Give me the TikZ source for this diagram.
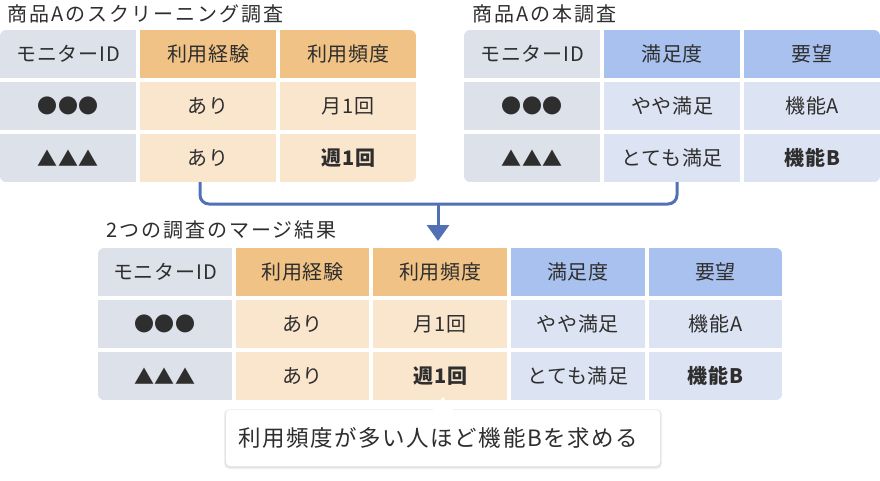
\documentclass[tikz,border=0pt]{standalone}
\usepackage{fontspec}
\setmainfont{Noto Sans CJK JP}
\newfontfamily\titlefont[LetterSpace=10]{Noto Sans CJK JP}
\newfontfamily\cellfontfam[LetterSpace=4]{Noto Sans CJK JP}
\newfontfamily\notefont[LetterSpace=7]{Noto Sans CJK JP}
\usetikzlibrary{arrows.meta}
\definecolor{txt}{HTML}{2E2E2E}
\definecolor{idcell}{HTML}{DDE1EA}
\definecolor{orhead}{HTML}{F0C285}
\definecolor{orcell}{HTML}{FAE5CD}
\definecolor{blhead}{HTML}{A9C1EE}
\definecolor{blcell}{HTML}{DCE3F2}
\definecolor{connc}{HTML}{5170B5}
\begin{document}
\begin{tikzpicture}[x=1pt,y=-1pt,
  cellbox/.style={font=\cellfontfam\fontsize{20}{24}\selectfont, inner sep=0pt, anchor=north west, text=txt, minimum height=48pt},
  topcell/.style={cellbox, minimum width=136pt},
  botcell/.style={cellbox, minimum width=133.6pt},
  titlebox/.style={font=\titlefont\fontsize{20}{24}\selectfont, text=txt, inner sep=0pt, anchor=base west},
  conn/.style={draw=connc, line width=3pt},
  callout/.style={font=\notefont\fontsize{22.5}{26}\selectfont, text=txt, inner sep=0pt, anchor=west}
]
\useasboundingbox (0,0) rectangle (880,480);

% ---------- titles
\node[titlebox] (title1) at (7,21) {商品Aのスクリーニング調査};
\node[titlebox] (title2) at (472,21) {商品Aの本調査};
\node[titlebox] (title3) at (106,237) {2つの調査のマージ結果};

% ---------- top-left table
\begin{scope}
\clip[rounded corners=6pt] (0,30) rectangle (416,182);
\node[topcell, fill=idcell] (a11) at (0,30) {モニターID};
\node[topcell, fill=orhead] (a12) at (140,30) {利用経験};
\node[topcell, fill=orhead] (a13) at (280,30) {利用頻度};
\node[topcell, fill=idcell] (a21) at (0,82) {●●●};
\node[topcell, fill=orcell] (a22) at (140,82) {あり};
\node[topcell, fill=orcell] (a23) at (280,82) {月1回};
\node[topcell, fill=idcell] (a31) at (0,134) {▲▲▲};
\node[topcell, fill=orcell] (a32) at (140,134) {あり};
\node[topcell, fill=orcell] (a33) at (280,134) {\bfseries 週1回};
\end{scope}

% ---------- top-right table
\begin{scope}
\clip[rounded corners=6pt] (464,30) rectangle (880,182);
\node[topcell, fill=idcell] (b11) at (464,30) {モニターID};
\node[topcell, fill=blhead] (b12) at (604,30) {満足度};
\node[topcell, fill=blhead] (b13) at (744,30) {要望};
\node[topcell, fill=idcell] (b21) at (464,82) {●●●};
\node[topcell, fill=blcell] (b22) at (604,82) {やや満足};
\node[topcell, fill=blcell] (b23) at (744,82) {機能A};
\node[topcell, fill=idcell] (b31) at (464,134) {▲▲▲};
\node[topcell, fill=blcell] (b32) at (604,134) {とても満足};
\node[topcell, fill=blcell] (b33) at (744,134) {\bfseries 機能B};
\end{scope}

% ---------- bottom (merged) table
\begin{scope}
\clip[rounded corners=6pt] (98,248) rectangle (782,400);
\node[botcell, fill=idcell] (c11) at (98,248) {モニターID};
\node[botcell, fill=orhead] (c12) at (235.6,248) {利用経験};
\node[botcell, fill=orhead] (c13) at (373.2,248) {利用頻度};
\node[botcell, fill=blhead] (c14) at (510.8,248) {満足度};
\node[botcell, fill=blhead] (c15) at (648.4,248) {要望};
\node[botcell, fill=idcell] (c21) at (98,300) {●●●};
\node[botcell, fill=orcell] (c22) at (235.6,300) {あり};
\node[botcell, fill=orcell] (c23) at (373.2,300) {月1回};
\node[botcell, fill=blcell] (c24) at (510.8,300) {やや満足};
\node[botcell, fill=blcell] (c25) at (648.4,300) {機能A};
\node[botcell, fill=idcell] (c31) at (98,352) {▲▲▲};
\node[botcell, fill=orcell] (c32) at (235.6,352) {あり};
\node[botcell, fill=orcell] (c33) at (373.2,352) {\bfseries 週1回};
\node[botcell, fill=blcell] (c34) at (510.8,352) {とても満足};
\node[botcell, fill=blcell] (c35) at (648.4,352) {\bfseries 機能B};
\end{scope}

% ---------- connector
\coordinate (srcA) at (200,182);
\coordinate (srcB) at (677,182);
\coordinate (mid) at (438,204);
\coordinate (tip) at (438,241);
\draw[conn, rounded corners=9pt] (srcA) |- (mid) -| (srcB);
\draw[conn, -{Triangle[width=22pt,length=16pt]}] (mid) -- (tip);

% ---------- callout
\fill[black, opacity=0.06, rounded corners=5pt] (224,409) rectangle (662,469);
\fill[black, opacity=0.05, rounded corners=5pt] (225,410) rectangle (661,468);
\fill[white, rounded corners=4pt] (226,410) rectangle (660,466);
\fill[white] (432,411) -- (443,397) -- (454,411) -- cycle;
\node[callout] (note) at (238,438) {利用頻度が多い人ほど機能Bを求める};
\end{tikzpicture}
\end{document}
